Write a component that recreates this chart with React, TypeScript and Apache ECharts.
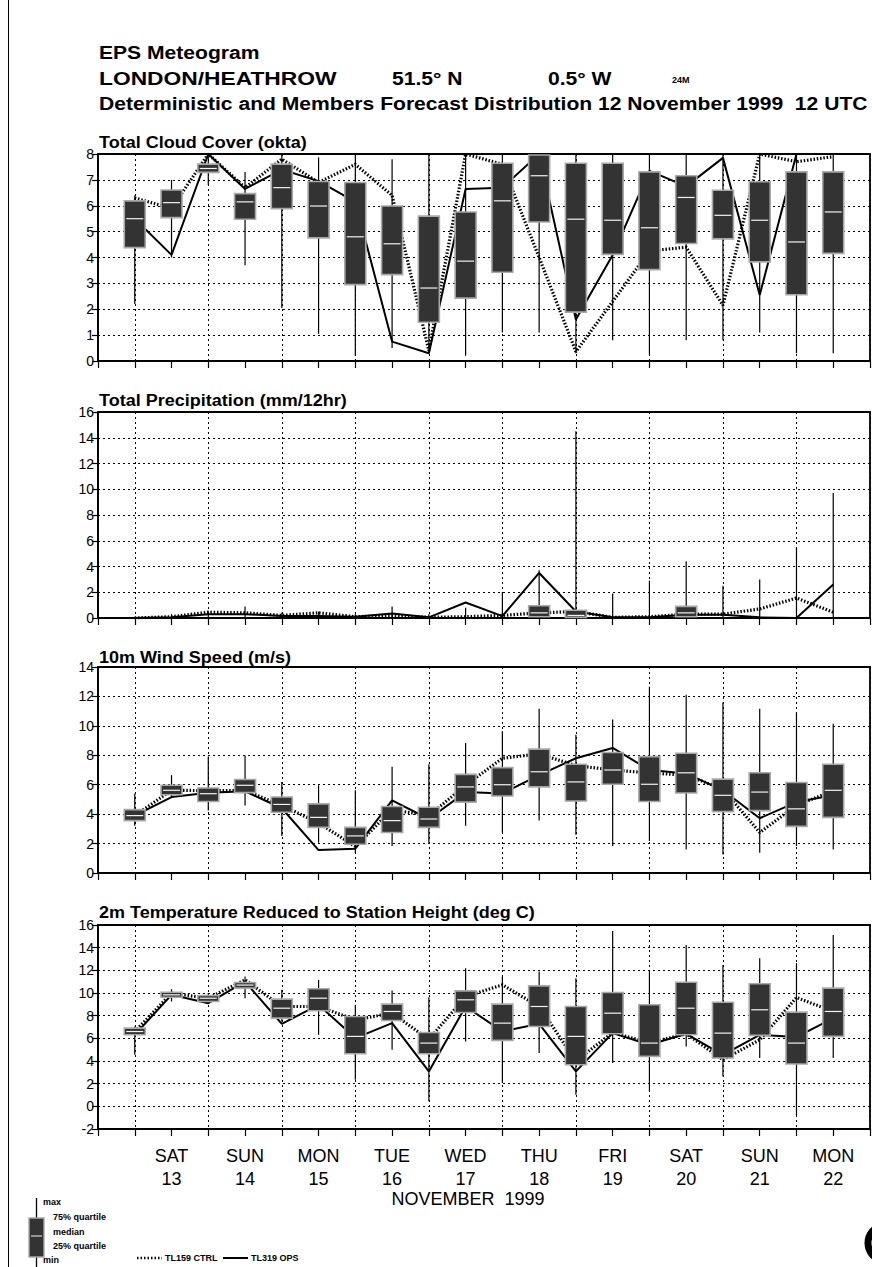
import React, { useEffect, useRef } from 'react';
import * as echarts from 'echarts';

// ---------- categories ----------
const stepHours = ['0', '12', '24', '36', '48', '60', '72', '84', '96', '108', '120', '132', '144', '156', '168', '180', '192', '204', '216', '228', '240', '252'];
const dayNames = ['SAT', 'SUN', 'MON', 'TUE', 'WED', 'THU', 'FRI', 'SAT', 'SUN', 'MON'];
const dayNums = ['13', '14', '15', '16', '17', '18', '19', '20', '21', '22'];
const monthLabel = 'NOVEMBER  1999';

// ---------- Total cloud cover (okta), steps 12h..240h ----------
const cloudMin = [2.2, 4.0, 6.8, 3.7, 2.05, 1.05, 0.2, 0.5, 0.3, 0.2, 1.1, 1.1, 0.3, 0.8, 0.25, 0.8, 0.8, 1.1, 0.3, 0.3];
const cloudQ1 = [4.38, 5.54, 7.29, 5.48, 5.89, 4.76, 2.95, 3.34, 1.5, 2.43, 3.43, 5.37, 1.89, 4.12, 3.53, 4.54, 4.72, 3.83, 2.56, 4.16];
const cloudMed = [5.5, 6.12, 7.44, 6.15, 6.7, 5.99, 4.8, 4.53, 2.82, 3.86, 6.19, 7.16, 5.48, 5.44, 5.15, 6.32, 5.63, 5.44, 4.6, 5.76];
const cloudQ3 = [6.19, 6.61, 7.61, 6.47, 7.61, 6.94, 6.9, 5.99, 5.6, 5.76, 7.64, 7.96, 7.64, 7.64, 7.31, 7.16, 6.6, 6.93, 7.31, 7.31];
const cloudMax = [6.4, 7.0, 8.0, 7.3, 8.0, 7.87, 8.0, 7.8, 8.0, 8.0, 8.0, 8.0, 8.0, 8.0, 8.0, 8.0, 8.0, 8.0, 8.0, 8.0];
const cloudCtrl = [6.3, 5.9, 8.0, 6.7, 7.8, 6.9, 7.6, 6.4, 0.4, 8.0, 7.6, 4.0, 0.36, 2.3, 4.25, 4.4, 2.15, 8.0, 7.7, 7.9];
const cloudOps = [5.5, 4.1, 8.0, 6.65, 7.4, 6.95, 6.15, 0.75, 0.3, 6.65, 6.7, 8.0, 1.6, 4.1, 7.35, 6.75, 7.85, 2.55, 8.0, 8.0];

// ---------- Total precipitation (mm/12hr) ----------
const precMin = [0, 0, 0, 0, 0, 0, 0, 0, 0, 0, 0, 0, 0, 0, 0, 0, 0, 0, 0, 0];
const precQ1 = [0, 0, 0, 0, 0, 0, 0, 0, 0, 0, 0, 0.1, 0.05, 0, 0, 0.1, 0, 0, 0, 0];
const precMed = [0, 0, 0, 0, 0, 0, 0, 0, 0, 0, 0, 0.4, 0.2, 0, 0, 0.4, 0.05, 0, 0, 0];
const precQ3 = [0, 0, 0.05, 0.05, 0, 0.05, 0, 0.05, 0, 0.05, 0.05, 0.95, 0.6, 0, 0.05, 0.9, 0.1, 0.05, 0.05, 0.1];
const precMax = [0.1, 0.3, 0.5, 0.9, 0.4, 0.5, 0.3, 0.9, 0.3, 0.8, 2.0, 3.7, 14.5, 1.9, 2.9, 4.4, 2.5, 3.0, 5.5, 9.7];
const precCtrl = [0, 0.1, 0.45, 0.4, 0.2, 0.4, 0.1, 0.2, 0.05, 0.1, 0.2, 0.4, 0.5, 0.05, 0.1, 0.3, 0.3, 0.7, 1.55, 0.45];
const precOps = [0, 0.05, 0.3, 0.3, 0.15, 0.15, 0.1, 0.35, 0.05, 1.2, 0.15, 3.5, 0.5, 0.05, 0.05, 0.25, 0.25, 0.05, 0, 2.6];

// ---------- 10m wind speed (m/s) ----------
const windMin = [3.21, 5.16, 4.24, 4.59, 2.52, 2.06, 1.38, 1.83, 2.06, 3.21, 2.75, 3.56, 2.6, 1.83, 2.18, 1.6, 1.26, 1.38, 1.83, 1.6];
const windQ1 = [3.56, 5.32, 4.86, 5.46, 4.13, 3.1, 1.95, 2.75, 3.1, 4.82, 5.23, 5.85, 4.89, 6.03, 4.86, 5.44, 4.17, 4.24, 3.17, 3.78];
const windMed = [3.9, 5.62, 5.39, 5.96, 4.66, 3.78, 2.52, 3.56, 3.67, 5.85, 6.0, 6.88, 6.19, 7.0, 6.03, 6.81, 5.28, 5.5, 4.36, 5.62];
const windQ3 = [4.31, 5.96, 5.78, 6.35, 5.16, 4.7, 3.1, 4.52, 4.47, 6.7, 7.16, 8.42, 7.39, 8.19, 7.91, 8.14, 6.38, 6.81, 6.15, 7.39];
const windMax = [5.39, 6.65, 7.91, 7.98, 6.19, 5.96, 5.62, 7.22, 7.39, 8.83, 9.63, 11.17, 9.4, 10.44, 12.66, 12.11, 11.58, 11.17, 10.9, 10.14];
const windCtrl = [3.9, 5.62, 5.6, 5.6, 4.6, 3.4, 1.8, 4.3, 3.9, 5.96, 7.8, 8.1, 7.3, 7.0, 6.8, 6.65, 5.7, 2.75, 4.6, 5.6];
const windOps = [3.9, 5.16, 5.46, 5.55, 4.4, 1.56, 1.65, 4.93, 3.67, 5.5, 5.4, 6.65, 7.8, 8.5, 7.0, 6.77, 5.62, 3.72, 4.82, 5.28];

// ---------- 2m temperature (deg C) ----------
const tempMin = [4.55, 9.25, 9.1, 9.54, 7.49, 6.31, 2.35, 4.99, 0.44, 5.73, 2.06, 4.7, 1.03, 3.82, 1.32, 5.29, 2.64, 4.26, -0.8, 4.26];
const tempQ1 = [6.31, 9.63, 9.25, 10.43, 7.78, 8.43, 4.64, 7.58, 4.64, 8.28, 5.82, 7.05, 3.67, 6.4, 4.41, 6.31, 4.26, 6.26, 3.73, 6.17];
const tempMed = [6.6, 9.84, 9.54, 10.7, 8.66, 9.54, 6.17, 8.37, 5.58, 9.4, 7.34, 8.81, 6.17, 8.22, 5.58, 8.66, 6.46, 8.52, 5.58, 8.37];
const tempQ3 = [6.9, 10.07, 9.78, 10.93, 9.46, 10.37, 7.93, 9.02, 6.52, 10.19, 9.02, 10.63, 8.81, 10.04, 8.96, 10.95, 9.19, 10.81, 8.31, 10.43];
const tempMax = [7.05, 10.34, 10.0, 11.45, 10.28, 11.16, 8.96, 10.22, 9.63, 12.19, 11.45, 11.89, 11.3, 15.48, 11.98, 14.24, 12.48, 13.07, 12.63, 15.12];
const tempCtrl = [6.6, 9.98, 9.54, 11.16, 8.81, 8.81, 7.64, 8.22, 5.9, 9.69, 10.72, 8.8, 4.0, 6.5, 5.6, 6.4, 4.11, 5.87, 9.6, 8.37];
const tempOps = [6.31, 9.84, 9.1, 11.0, 7.28, 8.96, 6.02, 7.34, 3.08, 8.81, 6.61, 7.28, 3.08, 6.46, 5.43, 6.4, 4.55, 6.31, 6.11, 7.78];

const FONT = '"Liberation Sans", Arial, Helvetica, sans-serif';

type Panel = {
  title: string; top: number; height: number; titleY: number;
  min: number; max: number; interval: number;
  lo: number[]; q1: number[]; med: number[]; q3: number[]; hi: number[];
  ctrl: number[]; ops: number[];
};

const panels: Panel[] = [
  { title: 'Total Cloud Cover (okta)', top: 154, height: 207, titleY: 142, min: 0, max: 8, interval: 1,
    lo: cloudMin, q1: cloudQ1, med: cloudMed, q3: cloudQ3, hi: cloudMax, ctrl: cloudCtrl, ops: cloudOps },
  { title: 'Total Precipitation (mm/12hr)', top: 412, height: 206, titleY: 400, min: 0, max: 16, interval: 2,
    lo: precMin, q1: precQ1, med: precMed, q3: precQ3, hi: precMax, ctrl: precCtrl, ops: precOps },
  { title: '10m Wind Speed (m/s)', top: 667, height: 206, titleY: 657, min: 0, max: 14, interval: 2,
    lo: windMin, q1: windQ1, med: windMed, q3: windQ3, hi: windMax, ctrl: windCtrl, ops: windOps },
  { title: '2m Temperature Reduced to Station Height (deg C)', top: 925, height: 204, titleY: 912, min: -2, max: 16, interval: 2,
    lo: tempMin, q1: tempQ1, med: tempMed, q3: tempQ3, hi: tempMax, ctrl: tempCtrl, ops: tempOps },
];

const BOX_W = 21;

function renderBox(_params: any, api: any) {
  const idx = api.value(0);
  const pMin = api.coord([idx, api.value(1)]);
  const pQ1 = api.coord([idx, api.value(2)]);
  const pMed = api.coord([idx, api.value(3)]);
  const pQ3 = api.coord([idx, api.value(4)]);
  const pMax = api.coord([idx, api.value(5)]);
  const x = pMed[0];
  const children: any[] = [
    { type: 'line', shape: { x1: x, y1: pMax[1], x2: x, y2: pMin[1] }, style: { stroke: '#000', lineWidth: 1.2 } },
  ];
  const h = pQ1[1] - pQ3[1];
  if (h > 1.5) {
    children.push({
      type: 'rect',
      shape: { x: x - BOX_W / 2, y: pQ3[1], width: BOX_W, height: h },
      style: { fill: '#333', stroke: '#a8a8a8', lineWidth: 1.6 },
    });
    children.push({
      type: 'line',
      shape: { x1: x - BOX_W / 2 + 2, y1: pMed[1], x2: x + BOX_W / 2 - 2, y2: pMed[1] },
      style: { stroke: '#f2f2f2', lineWidth: 1.2 },
    });
  }
  return { type: 'group', children };
}

function buildOption() {
  const grid: any[] = [];
  const xAxis: any[] = [];
  const yAxis: any[] = [];
  const series: any[] = [];
  const graphic: any[] = [];

  panels.forEach((p, g) => {
    grid.push({ left: 98, right: 2, top: p.top, height: p.height, show: true, borderColor: '#000', borderWidth: 1.8, backgroundColor: 'transparent' });
    const isLast = g === panels.length - 1;
    xAxis.push({
      type: 'category', gridIndex: g, data: stepHours, boundaryGap: false,
      axisLine: { show: true, onZero: false, lineStyle: { color: '#000', width: 1.6 } },
      axisTick: { show: true, interval: 0, length: 7, lineStyle: { color: '#000', width: 1.2 } },
      axisLabel: {
        show: isLast,
        interval: (i: number) => i >= 2 && i <= 20 && i % 2 === 0,
        formatter: (_v: string, i: number) => {
          const k = i / 2 - 1;
          return dayNames[k] + '\n' + dayNums[k];
        },
        color: '#000', fontSize: 18, fontFamily: FONT, lineHeight: 23, margin: 15,
      },
      splitLine: { show: true, interval: (i: number) => i % 2 === 1, lineStyle: { color: '#000', width: 1, type: [2, 3] } },
    });
    yAxis.push({
      type: 'value', gridIndex: g, min: p.min, max: p.max, interval: p.interval,
      axisLine: { show: true, lineStyle: { color: '#000', width: 1.6 } },
      axisTick: { show: true, length: 6, lineStyle: { color: '#000', width: 1.2 } },
      axisLabel: { color: '#000', fontSize: 14, fontFamily: FONT, margin: 4 },
      splitLine: { show: true, lineStyle: { color: '#000', width: 1, type: [2, 3] } },
    });
    series.push({
      type: 'line', name: 'TL159 CTRL', xAxisIndex: g, yAxisIndex: g, symbol: 'none', silent: true, z: 2,
      data: p.ctrl.map((v, i) => [i + 1, v]),
      lineStyle: { color: '#000', width: 3.2, type: [1.5, 1.8] },
    });
    series.push({
      type: 'line', name: 'TL319 OPS', xAxisIndex: g, yAxisIndex: g, symbol: 'none', silent: true, z: 3,
      data: p.ops.map((v, i) => [i + 1, v]),
      lineStyle: { color: '#000', width: 2 },
    });
    series.push({
      type: 'custom', name: 'members', xAxisIndex: g, yAxisIndex: g, silent: true, z: 4,
      renderItem: renderBox,
      encode: { x: 0, y: [1, 2, 3, 4, 5] },
      data: p.lo.map((v, i) => [i + 1, v, p.q1[i], p.med[i], p.q3[i], p.hi[i]]),
    });
    graphic.push({
      type: 'text', x: 99, y: p.titleY, scaleX: 1.06,
      style: { text: p.title, fill: '#000', fontSize: 17, fontWeight: 'bold', fontFamily: FONT, textVerticalAlign: 'middle' },
    });
  });

  const hdr = (text: string, x: number, y: number, size: number, sx: number) => ({
    type: 'text', x, y, scaleX: sx,
    style: { text, fill: '#000', fontSize: size, fontWeight: 'bold', fontFamily: FONT, textVerticalAlign: 'middle' },
  });
  graphic.push(hdr('EPS Meteogram', 99, 52, 19, 1.11));
  graphic.push(hdr('LONDON/HEATHROW', 99, 78, 19, 1.2));
  graphic.push(hdr('51.5° N', 392, 78, 19, 1.11));
  graphic.push(hdr('0.5° W', 548, 78, 19, 1.11));
  graphic.push(hdr('24M', 672, 80, 9, 1.0));
  graphic.push(hdr('Deterministic and Members Forecast Distribution 12 November 1999  12 UTC', 99, 103, 19, 1.11));

  graphic.push({
    type: 'text', x: 468, y: 1199,
    style: { text: monthLabel, fill: '#000', fontSize: 18, fontFamily: FONT, textAlign: 'center', textVerticalAlign: 'middle' },
  });

  // left page border
  graphic.push({ type: 'line', shape: { x1: 8.5, y1: 0, x2: 8.5, y2: 1267 }, style: { stroke: '#000', lineWidth: 1 } });

  // legend: box glyph
  graphic.push({ type: 'line', shape: { x1: 36.5, y1: 1198, x2: 36.5, y2: 1267 }, style: { stroke: '#000', lineWidth: 1.3 } });
  graphic.push({ type: 'rect', shape: { x: 29, y: 1218, width: 15, height: 39 }, style: { fill: '#333', stroke: '#a8a8a8', lineWidth: 1.4 } });
  graphic.push({ type: 'line', shape: { x1: 31, y1: 1236, x2: 42, y2: 1236 }, style: { stroke: '#f2f2f2', lineWidth: 1 } });
  const legTxt = (text: string, x: number, y: number) => ({
    type: 'text', x, y,
    style: { text, fill: '#000', fontSize: 9, fontWeight: 'bold', fontFamily: FONT, textVerticalAlign: 'middle' },
  });
  graphic.push(legTxt('max', 43, 1202));
  graphic.push(legTxt('75% quartile', 53, 1217));
  graphic.push(legTxt('median', 53, 1232));
  graphic.push(legTxt('25% quartile', 53, 1246));
  graphic.push(legTxt('min', 43, 1260));
  graphic.push({ type: 'line', shape: { x1: 137, y1: 1258, x2: 162, y2: 1258 }, style: { stroke: '#000', lineWidth: 2.5, lineDash: [1.5, 2] } });
  graphic.push(legTxt('TL159 CTRL', 165, 1258));
  graphic.push({ type: 'line', shape: { x1: 223, y1: 1258, x2: 248, y2: 1258 }, style: { stroke: '#000', lineWidth: 2 } });
  graphic.push(legTxt('TL319 OPS', 251, 1258));

  // ECMWF logo fragment at right edge
  graphic.push({ type: 'arc', shape: { cx: 886, cy: 1243, r: 18, startAngle: Math.PI * 0.55, endAngle: Math.PI * 1.45, clockwise: true }, style: { stroke: '#000', lineWidth: 7, fill: 'none' } });
  graphic.push({ type: 'rect', shape: { x: 868, y: 1237, width: 6, height: 3 }, style: { fill: '#000' } });
  graphic.push({ type: 'rect', shape: { x: 868, y: 1246, width: 6, height: 3 }, style: { fill: '#000' } });

  return {
    animation: false,
    backgroundColor: '#fff',
    textStyle: { fontFamily: FONT },
    grid, xAxis, yAxis, series, graphic,
  };
}

export default function App() {
  const ref = useRef<HTMLDivElement>(null);
  useEffect(() => {
    if (!ref.current) return;
    const chart = echarts.init(ref.current, undefined, { renderer: 'svg' });
    chart.setOption(buildOption() as any);
    return () => chart.dispose();
  }, []);
  return <div ref={ref} style={{ position: 'absolute', left: 0, top: 0, width: 872, height: 1267, background: '#fff' }} />;
}
